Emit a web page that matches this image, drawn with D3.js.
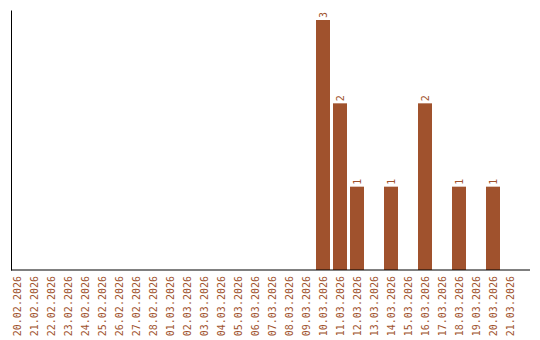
<!DOCTYPE html>
<html lang="en">
<head>
    <meta charset="UTF-8">
    <title>Daily count</title>
    <script src="https://cdn.jsdelivr.net/npm/d3@7"></script>
    <style>
        html, body {
            margin: 0;
            padding: 0;
            background: #fff;
        }

        text {
            font-family: "DejaVu Sans Mono", monospace;
            font-size: 10px;
        }
    </style>
</head>
<body>
<div id="chart"></div>

<script>
    const dates = [
        '20.02.2026', '21.02.2026', '22.02.2026', '23.02.2026', '24.02.2026', '25.02.2026',
        '26.02.2026', '27.02.2026', '28.02.2026', '01.03.2026', '02.03.2026', '03.03.2026',
        '04.03.2026', '05.03.2026', '06.03.2026', '07.03.2026', '08.03.2026', '09.03.2026',
        '10.03.2026', '11.03.2026', '12.03.2026', '13.03.2026', '14.03.2026', '15.03.2026',
        '16.03.2026', '17.03.2026', '18.03.2026', '19.03.2026', '20.03.2026', '21.03.2026'
    ];
    const counts = [
        0, 0, 0, 0, 0, 0,
        0, 0, 0, 0, 0, 0,
        0, 0, 0, 0, 0, 0,
        3, 2, 1, 0, 1, 0,
        2, 0, 1, 0, 1, 0
    ];

    const width = 540, height = 340;
    const margin = {top: 10, left: 11, bottom: 70, right: 10};
    const color = '#a0522d';

    const data = dates.map((d, i) => ({date: d, value: counts[i]}));

    const svg = d3.select('#chart').append('svg')
        .attr('width', width)
        .attr('height', height);

    // bands are 17px apart, bars 14px wide
    const x = d3.scaleBand()
        .domain(dates)
        .range([8.5, 518.5])
        .paddingInner(3 / 17)
        .paddingOuter(1.5 / 17);

    const baseY = height - margin.bottom;
    const y = d3.scaleLinear()
        .domain([0, d3.max(counts) * 1.04])
        .range([baseY, margin.top]);

    // bars
    svg.append('g')
        .selectAll('rect')
        .data(data.filter(d => d.value > 0))
        .join('rect')
        .attr('x', d => x(d.date))
        .attr('y', d => y(d.value))
        .attr('width', x.bandwidth())
        .attr('height', d => y(0) - y(d.value))
        .attr('fill', color);

    // value labels on top of bars
    svg.append('g')
        .selectAll('text')
        .data(data.filter(d => d.value > 0))
        .join('text')
        .attr('transform', d => `translate(${x(d.date) + x.bandwidth() / 2},${y(d.value) - 2}) rotate(-90)`)
        .attr('dy', '0.35em')
        .attr('fill', color)
        .text(d => d.value);

    // y axis: just the line
    svg.append('g')
        .attr('transform', `translate(${margin.left},0)`)
        .call(d3.axisLeft(y).tickValues([]).tickSizeOuter(0))
        .select('.domain')
        .attr('stroke', '#000');

    // x axis
    const xAxis = svg.append('g')
        .attr('transform', `translate(0,${baseY})`)
        .call(d3.axisBottom(x).tickSize(0).tickSizeOuter(0));

    xAxis.select('.domain').remove();
    xAxis.append('line')
        .attr('x1', margin.left)
        .attr('x2', width - margin.right)
        .attr('stroke', '#000');

    xAxis.selectAll('.tick text')
        .attr('transform', 'rotate(-90)')
        .attr('text-anchor', 'end')
        .attr('x', -6)
        .attr('y', 0)
        .attr('dy', '0.35em')
        .attr('fill', color)
        .style('font-family', '"DejaVu Sans Mono", monospace')
        .style('font-size', '10px');
</script>
</body>
</html>
